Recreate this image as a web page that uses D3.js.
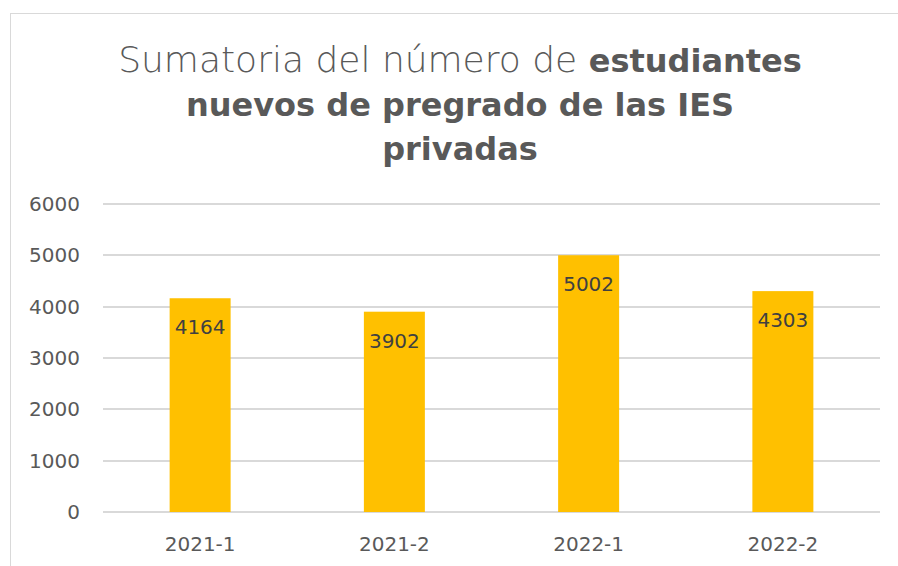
<!DOCTYPE html>
<html>
<head>
<meta charset="utf-8">
<script src="https://cdn.jsdelivr.net/npm/d3@7"></script>
<style>
  body { margin: 0; background: #fff; }
  svg text { font-family: "DejaVu Sans", sans-serif; }
</style>
</head>
<body>
<svg id="chart" width="898" height="566"></svg>
<script>
// data
var categories = ['2021-1', '2021-2', '2022-1', '2022-2'];
var values = [4164, 3902, 5002, 4303];
var yTicks = [0, 1000, 2000, 3000, 4000, 5000, 6000];

var svg = d3.select('#chart');

// chart frame
svg.append('rect')
   .attr('x', 10.5).attr('y', 13.5)
   .attr('width', 888).attr('height', 570)
   .attr('fill', '#fff')
   .attr('stroke', '#d9d9d9');

// title
var title = svg.append('text')
   .attr('text-anchor', 'middle')
   .attr('fill', '#595959')
   .attr('font-size', 32);
var l1 = title.append('tspan').attr('x', 460).attr('y', 72);
l1.append('tspan').attr('font-weight', 200).attr('font-size', 36).text('Sumatoria del número de ');
l1.append('tspan').attr('font-weight', 700).text('estudiantes');
title.append('tspan').attr('x', 460).attr('y', 116).attr('font-weight', 700)
     .text('nuevos de pregrado de las IES');
title.append('tspan').attr('x', 460).attr('y', 160).attr('font-weight', 700)
     .text('privadas');

var plotLeft = 103, plotRight = 880, plotTop = 204, plotBottom = 512;

var x = d3.scaleBand().domain(categories).range([plotLeft, plotRight]).paddingInner(0.686).paddingOuter(0.343);
var y = d3.scaleLinear().domain([0, 6000]).range([plotBottom, plotTop]);

// gridlines
svg.append('g').selectAll('line')
   .data(yTicks)
   .join('line')
   .attr('x1', plotLeft).attr('x2', plotRight)
   .attr('y1', d => Math.round(y(d)))
   .attr('y2', d => Math.round(y(d)))
   .attr('stroke', '#d9d9d9')
   .attr('stroke-width', 2);

// y axis labels
var yAxis = svg.append('g')
   .attr('transform', 'translate(80,0)')
   .call(d3.axisLeft(y).tickValues(yTicks).tickFormat(d3.format('d')).tickSize(0).tickPadding(0));
yAxis.select('.domain').remove();
yAxis.selectAll('text')
   .attr('font-size', 20)
   .attr('fill', '#595959')
   .style('font-family', '"DejaVu Sans", sans-serif');

// bars
svg.append('g').selectAll('rect')
   .data(values)
   .join('rect')
   .attr('x', (d, i) => x(categories[i]))
   .attr('y', d => y(d))
   .attr('width', x.bandwidth())
   .attr('height', d => plotBottom - y(d))
   .attr('fill', '#ffc000');

// value labels
svg.append('g').selectAll('text')
   .data(values)
   .join('text')
   .attr('x', (d, i) => x(categories[i]) + x.bandwidth() / 2)
   .attr('y', d => y(d) + 36)
   .attr('text-anchor', 'middle')
   .attr('font-size', 20)
   .attr('fill', '#404040')
   .text(d => d);

// x axis labels
var xAxis = svg.append('g')
   .attr('transform', 'translate(0,532)')
   .call(d3.axisBottom(x).tickSize(0).tickPadding(0));
xAxis.select('.domain').remove();
xAxis.selectAll('text')
   .attr('font-size', 20)
   .attr('fill', '#595959')
   .attr('dy', '0.95em')
   .style('font-family', '"DejaVu Sans", sans-serif');
</script>
</body>
</html>
